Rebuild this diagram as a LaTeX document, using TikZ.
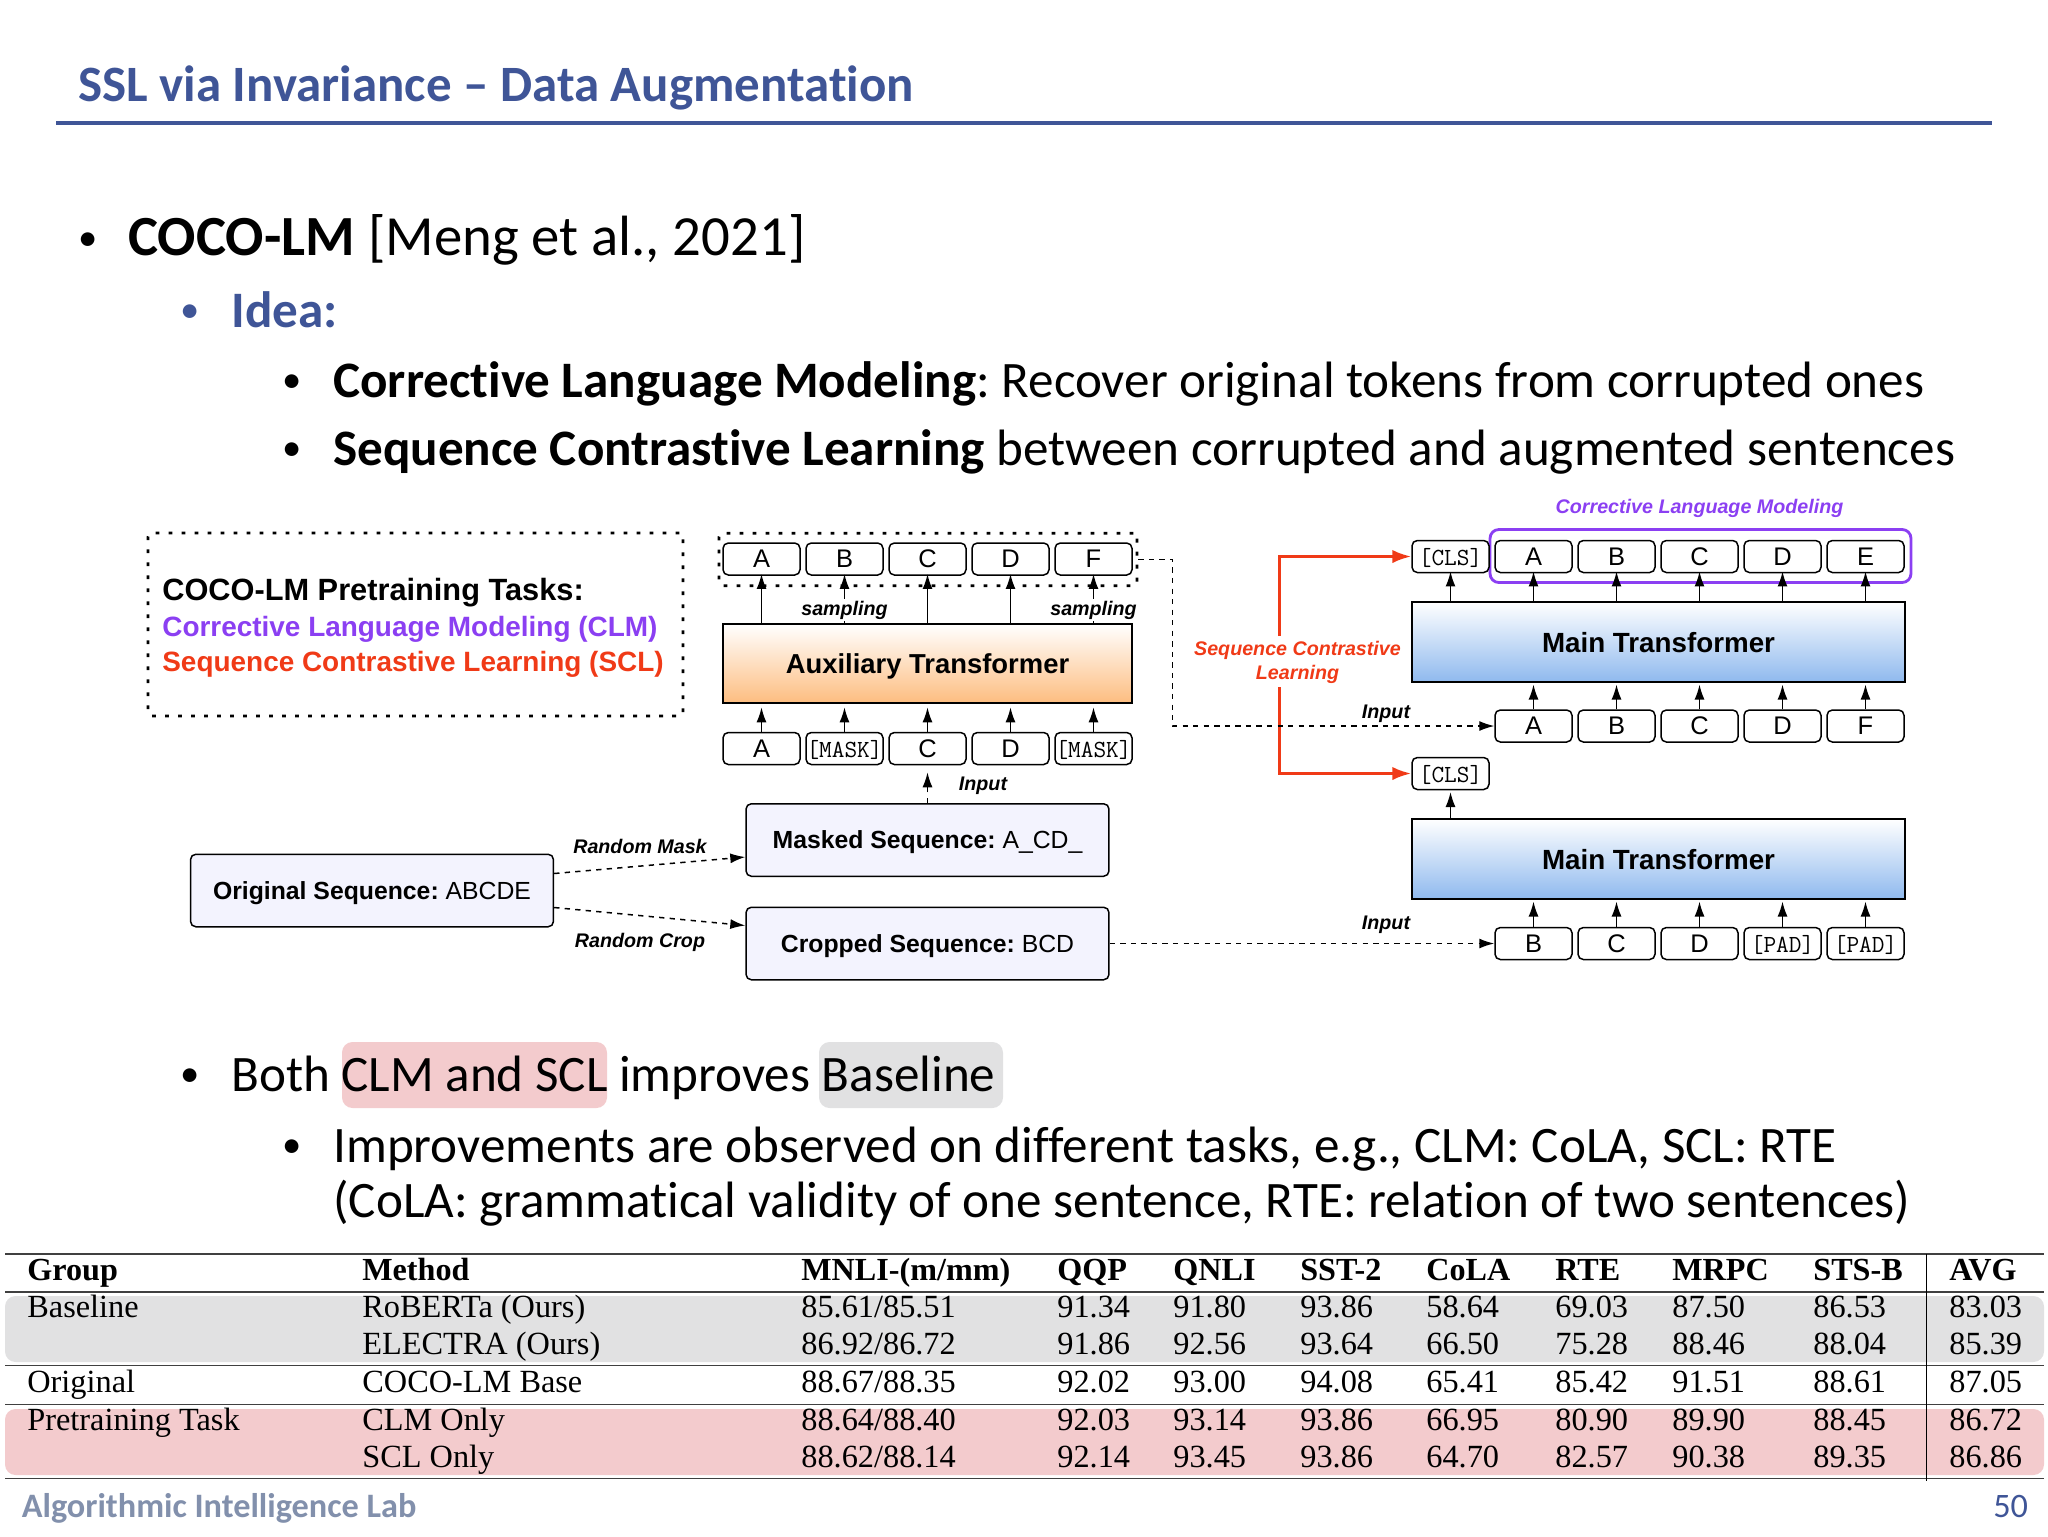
\documentclass[tikz,border=0pt]{standalone}
\usepackage{fontspec}
\usetikzlibrary{arrows.meta}
\setmainfont[Ligatures={TeX,NoCommon}]{Carlito}
\newfontfamily\diagfont{Liberation Sans}
\newfontfamily\tablefont{Liberation Serif}
\frenchspacing
\definecolor{slideblue}{HTML}{3F5597}
\definecolor{footgray}{HTML}{8290AC}
\definecolor{clmpurple}{HTML}{8B3FF2}
\definecolor{sclred}{HTML}{F03A17}
\definecolor{auxorange}{HTML}{FDBD80}
\definecolor{mainblue}{HTML}{8FB9EE}
\definecolor{seqfill}{HTML}{F3F3FE}
\definecolor{pinkband}{HTML}{F3CBCD}
\definecolor{grayband}{HTML}{E1E1E2}
\tikzset{
  slidetext/.style={anchor=base west, inner sep=0pt, font=\fontsize{29.1}{34}\selectfont},
  bulletdot/.style={anchor=base west, inner sep=0pt, font=\fontsize{22}{26}\selectfont},
  titletext/.style={anchor=base west, inner sep=0pt, text=slideblue, font=\fontsize{29}{34}\selectfont\bfseries},
  foottext/.style={anchor=base west, inner sep=0pt, font=\fontsize{19.5}{24}\selectfont\bfseries},
  tokenbox/.style={draw, rounded corners=3pt, line width=0.85pt, minimum width=1.54cm, minimum height=0.64cm, inner sep=0pt, fill=white, text depth=0pt, font=\fontsize{14.5}{16}\selectfont\diagfont},
  monotoken/.style={tokenbox, font=\fontsize{14}{15}\selectfont\ttfamily},
  seqbox/.style={draw, rounded corners=3pt, line width=0.85pt, fill=seqfill, minimum width=7.26cm, minimum height=1.45cm, inner sep=0pt, text depth=0pt, font=\fontsize{14.1}{18}\selectfont\diagfont},
  auxbox/.style={draw, line width=0.9pt, top color=white, bottom color=auxorange, minimum width=8.18cm, minimum height=1.58cm, inner sep=0pt, text depth=0pt, font=\fontsize{15.6}{18}\selectfont\diagfont\bfseries},
  mainbox/.style={draw, line width=0.9pt, top color=white, bottom color=mainblue, minimum width=9.86cm, minimum height=1.6cm, inner sep=0pt, text depth=0pt, font=\fontsize{15.8}{18}\selectfont\diagfont\bfseries},
  dottedbox/.style={draw, line width=1.5pt, dash pattern=on 2.2pt off 5.2pt, rounded corners=2pt, inner sep=0pt},
  smalllabel/.style={inner sep=1pt, fill=white, font=\fontsize{11.2}{13}\selectfont\diagfont\bfseries\itshape},
  legendtext/.style={anchor=base west, inner sep=0pt, font=\fontsize{15.9}{18}\selectfont\diagfont\bfseries},
  solidarrow/.style={-{Latex[length=0.3cm,width=0.2cm]}, line width=0.85pt},
  dasharrow/.style={solidarrow, dashed},
  redarrow/.style={-{Latex[length=0.38cm,width=0.27cm]}, line width=1.7pt, draw=sclred},
  tablecell/.style={anchor=base west, inner sep=0pt, font=\fontsize{18.4}{21}\selectfont\tablefont},
  tablehead/.style={tablecell, font=\fontsize{18.3}{21}\selectfont\tablefont\bfseries},
  tablerule/.style={line width=0.9pt, draw=black!75},
}
\begin{document}
\begin{tikzpicture}[x=0.02cm, y=-0.02cm]

    \useasboundingbox (0,0) rectangle (2048,1536);

    % slide header and bullets
    \node [titletext] (title) at (78,101) {SSL via Invariance -- Data Augmentation};
    \draw [line width=2.4pt, draw=slideblue] (56,123) -- (1992,123);

    \node [bulletdot] (dot1) at (78,250) {•};
    \node [slidetext, font=\fontsize{32.3}{38}\selectfont] (cocoline) at (128,255) {\textbf{COCO-LM} [Meng et al., 2021]};
    \node [bulletdot, text=slideblue] (dot2) at (180,322) {•};
    \node [slidetext, text=slideblue] (idealine) at (231,327) {\textbf{Idea:}};
    \node [bulletdot] (dot3) at (282,392) {•};
    \node [slidetext] (clmline) at (333,397) {\textbf{Corrective Language Modeling}: Recover original tokens from corrupted ones};
    \node [bulletdot] (dot4) at (282,460) {•};
    \node [slidetext] (sclline) at (333,465) {\textbf{Sequence Contrastive Learning} between corrupted and augmented sentences};

    % legend
    \node [dottedbox, minimum width=10.7cm, minimum height=3.66cm] (legend) at (415.5,624.5) {};
    \node [legendtext, font=\fontsize{17.5}{20}\selectfont\diagfont\bfseries] (legend1) at (162,600.5) {COCO-LM Pretraining Tasks:};
    \node [legendtext, text=clmpurple] (legend2) at (162,636) {Corrective Language Modeling (CLM)};
    \node [legendtext, text=sclred] (legend3) at (162,671) {Sequence Contrastive Learning (SCL)};

    % auxiliary side
    \node [auxbox] (aux) at (927.5,663.5) {Auxiliary Transformer};
    \node [dottedbox, minimum width=8.36cm, minimum height=1.05cm] (sampled) at (928,559.5) {};
    \node [tokenbox] (sampA) at (761.5,559) {A};
    \node [tokenbox] (sampB) at (844.5,559) {B};
    \node [tokenbox] (sampC) at (927.5,559) {C};
    \node [tokenbox] (sampD) at (1010.5,559) {D};
    \node [tokenbox] (sampF) at (1093.5,559) {F};
    \node [tokenbox] (maskA) at (761.5,748.5) {A};
    \node [monotoken] (maskB) at (844.5,748.5) {[MASK]};
    \node [tokenbox] (maskC) at (927.5,748.5) {C};
    \node [tokenbox] (maskD) at (1010.5,748.5) {D};
    \node [monotoken] (maskE) at (1093.5,748.5) {[MASK]};

    \draw [solidarrow, shorten >=2pt] (maskA.north) -- (maskA.north |- aux.south);
    \draw [solidarrow, shorten >=2pt] (maskB.north) -- (maskB.north |- aux.south);
    \draw [solidarrow, shorten >=2pt] (maskC.north) -- (maskC.north |- aux.south);
    \draw [solidarrow, shorten >=2pt] (maskD.north) -- (maskD.north |- aux.south);
    \draw [solidarrow, shorten >=2pt] (maskE.north) -- (maskE.north |- aux.south);
    \draw [solidarrow, shorten >=-1pt] (sampA.south |- aux.north) -- (sampA.south);
    \draw [solidarrow, shorten >=-1pt] (sampB.south |- aux.north) -- (sampB.south);
    \draw [solidarrow, shorten >=-1pt] (sampC.south |- aux.north) -- (sampC.south);
    \draw [solidarrow, shorten >=-1pt] (sampD.south |- aux.north) -- (sampD.south);
    \draw [solidarrow, shorten >=-1pt] (sampF.south |- aux.north) -- (sampF.south);
    \node [smalllabel] (samplabel1) at (844.5,610) {sampling};
    \node [smalllabel] (samplabel2) at (1093.5,610) {sampling};

    % sequences
    \node [seqbox] (orig) at (372,890.5) {\textbf{Original Sequence:} ABCDE};
    \node [seqbox] (masked) at (927.5,840) {\textbf{Masked Sequence:} A\_CD\_};
    \node [seqbox] (cropped) at (927.5,943.5) {\textbf{Cropped Sequence:} BCD};
    \draw [dasharrow, shorten >=4pt] (masked.north) -- (maskC.south);
    \draw [dasharrow] ([yshift=0.34cm]orig.east) -- ([yshift=-0.34cm]masked.west);
    \draw [dasharrow] ([yshift=-0.34cm]orig.east) -- ([yshift=0.36cm]cropped.west);
    \node [smalllabel] (inputlabel1) at (983,786) {Input};
    \node [smalllabel] (masklabel) at (640,846) {Random Mask};
    \node [smalllabel] (croplabel) at (640,942) {Random Crop};

    % main side, top
    \node [draw=clmpurple, line width=1.6pt, rounded corners=5pt, minimum width=8.42cm, minimum height=1.06cm, inner sep=0pt] (clmgroup) at (1700.5,556) {};
    \node [text=clmpurple, font=\fontsize{11.2}{13}\selectfont\diagfont\bfseries\itshape] (clmlabel) at (1699.5,508) {Corrective Language Modeling};
    \node [monotoken] (cls1) at (1450.5,556.5) {[CLS]};
    \node [tokenbox] (outA) at (1533.5,556.5) {A};
    \node [tokenbox] (outB) at (1616.5,556.5) {B};
    \node [tokenbox] (outC) at (1699.5,556.5) {C};
    \node [tokenbox] (outD) at (1782.5,556.5) {D};
    \node [tokenbox] (outE) at (1865.5,556.5) {E};
    \node [mainbox] (main1) at (1658.5,642) {Main Transformer};
    \node [tokenbox] (inA) at (1533.5,726) {A};
    \node [tokenbox] (inB) at (1616.5,726) {B};
    \node [tokenbox] (inC) at (1699.5,726) {C};
    \node [tokenbox] (inD) at (1782.5,726) {D};
    \node [tokenbox] (inF) at (1865.5,726) {F};

    \draw [solidarrow, shorten >=-1pt] (cls1.south |- main1.north) -- (cls1.south);
    \draw [solidarrow, shorten >=-1pt] (outA.south |- main1.north) -- (outA.south);
    \draw [solidarrow, shorten >=-1pt] (outB.south |- main1.north) -- (outB.south);
    \draw [solidarrow, shorten >=-1pt] (outC.south |- main1.north) -- (outC.south);
    \draw [solidarrow, shorten >=-1pt] (outD.south |- main1.north) -- (outD.south);
    \draw [solidarrow, shorten >=-1pt] (outE.south |- main1.north) -- (outE.south);
    \draw [solidarrow, shorten >=1pt] (inA.north) -- (inA.north |- main1.south);
    \draw [solidarrow, shorten >=1pt] (inB.north) -- (inB.north |- main1.south);
    \draw [solidarrow, shorten >=1pt] (inC.north) -- (inC.north |- main1.south);
    \draw [solidarrow, shorten >=1pt] (inD.north) -- (inD.north |- main1.south);
    \draw [solidarrow, shorten >=1pt] (inF.north) -- (inF.north |- main1.south);

    % main side, bottom
    \node [monotoken] (cls2) at (1450.5,773.5) {[CLS]};
    \node [mainbox] (main2) at (1658.5,859) {Main Transformer};
    \node [tokenbox] (padA) at (1533.5,943.5) {B};
    \node [tokenbox] (padB) at (1616.5,943.5) {C};
    \node [tokenbox] (padC) at (1699.5,943.5) {D};
    \node [monotoken] (padD) at (1782.5,943.5) {[PAD]};
    \node [monotoken] (padE) at (1865.5,943.5) {[PAD]};

    \draw [solidarrow, shorten >=1pt] (cls2.south |- main2.north) -- (cls2.south);
    \draw [solidarrow, shorten >=1pt] (padA.north) -- (padA.north |- main2.south);
    \draw [solidarrow, shorten >=1pt] (padB.north) -- (padB.north |- main2.south);
    \draw [solidarrow, shorten >=1pt] (padC.north) -- (padC.north |- main2.south);
    \draw [solidarrow, shorten >=1pt] (padD.north) -- (padD.north |- main2.south);
    \draw [solidarrow, shorten >=1pt] (padE.north) -- (padE.north |- main2.south);

    % between the two sides
    \coordinate (sclup) at (1279.6,636);
    \coordinate (scldown) at (1279.6,687);
    \coordinate (turn) at (1172.5,726);
    \draw [redarrow] (sclup) |- (cls1.west);
    \draw [redarrow] (scldown) |- (cls2.west);
    \draw [dasharrow, line width=0.7pt] (sampled.east) -| (turn) -- (inA.west);
    \draw [dasharrow] (cropped.east) -- (padA.west);
    \node [smalllabel, fill=none] (inputlabel2) at (1386,714) {Input};
    \node [smalllabel, fill=none] (inputlabel3) at (1386,924.5) {Input};
    \node [align=center, text=sclred, font=\fontsize{11.2}{14}\selectfont\diagfont\bfseries\itshape] (scllabel) at (1297.5,662.5) {Sequence Contrastive\\Learning};

    % lower bullets
    \fill [pinkband, rounded corners=6pt] (342,1042) rectangle (607,1108);
    \fill [grayband, rounded corners=6pt] (819,1042) rectangle (1003,1108);
    \node [bulletdot] (dot5) at (180,1086) {•};
    \node [slidetext] (bothline) at (231,1091) {Both CLM and SCL improves Baseline};
    \node [bulletdot] (dot6) at (282,1157) {•};
    \node [slidetext] (taskline) at (333,1162) {Improvements are observed on different tasks, e.g., CLM: CoLA, SCL: RTE};
    \node [slidetext] (coladesc) at (333,1217) {(CoLA: grammatical validity of one sentence, RTE: relation of two sentences)};

    % table
    \fill [grayband, rounded corners=6pt] (5,1296) rectangle (2044,1362);
    \fill [pinkband, rounded corners=6pt] (5,1409) rectangle (2044,1475);
    \draw [tablerule] (5,1254) -- (2044,1254);
    \draw [tablerule] (5,1292) -- (2044,1292);
    \draw [tablerule] (5,1365.5) -- (2044,1365.5);
    \draw [tablerule] (5,1404.5) -- (2044,1404.5);
    \draw [tablerule] (5,1478.5) -- (2044,1478.5);
    \draw [line width=0.5pt] (1926.6,1254) -- (1926.6,1481);

    \node [tablehead] (headA) at (27,1280) {Group};
    \node [tablehead] (headB) at (362,1280) {Method};
    \node [tablehead] (headC) at (801,1280) {MNLI-(m/mm)};
    \node [tablehead] (headD) at (1057,1280) {QQP};
    \node [tablehead] (headE) at (1173,1280) {QNLI};
    \node [tablehead] (headF) at (1300,1280) {SST-2};
    \node [tablehead] (headG) at (1426,1280) {CoLA};
    \node [tablehead] (headH) at (1555,1280) {RTE};
    \node [tablehead] (headI) at (1672,1280) {MRPC};
    \node [tablehead] (headJ) at (1813,1280) {STS-B};
    \node [tablehead] (headK) at (1949,1280) {AVG};

    \node [tablecell] (robA) at (27,1317) {Baseline};
    \node [tablecell] (robB) at (362,1317) {RoBERTa (Ours)};
    \node [tablecell] (robC) at (801,1317) {85.61/85.51};
    \node [tablecell] (robD) at (1057,1317) {91.34};
    \node [tablecell] (robE) at (1173,1317) {91.80};
    \node [tablecell] (robF) at (1300,1317) {93.86};
    \node [tablecell] (robG) at (1426,1317) {58.64};
    \node [tablecell] (robH) at (1555,1317) {69.03};
    \node [tablecell] (robI) at (1672,1317) {87.50};
    \node [tablecell] (robJ) at (1813,1317) {86.53};
    \node [tablecell] (robK) at (1949,1317) {83.03};

    \node [tablecell] (eleB) at (362,1354) {ELECTRA (Ours)};
    \node [tablecell] (eleC) at (801,1354) {86.92/86.72};
    \node [tablecell] (eleD) at (1057,1354) {91.86};
    \node [tablecell] (eleE) at (1173,1354) {92.56};
    \node [tablecell] (eleF) at (1300,1354) {93.64};
    \node [tablecell] (eleG) at (1426,1354) {66.50};
    \node [tablecell] (eleH) at (1555,1354) {75.28};
    \node [tablecell] (eleI) at (1672,1354) {88.46};
    \node [tablecell] (eleJ) at (1813,1354) {88.04};
    \node [tablecell] (eleK) at (1949,1354) {85.39};

    \node [tablecell] (basA) at (27,1392) {Original};
    \node [tablecell] (basB) at (362,1392) {COCO-LM Base};
    \node [tablecell] (basC) at (801,1392) {88.67/88.35};
    \node [tablecell] (basD) at (1057,1392) {92.02};
    \node [tablecell] (basE) at (1173,1392) {93.00};
    \node [tablecell] (basF) at (1300,1392) {94.08};
    \node [tablecell] (basG) at (1426,1392) {65.41};
    \node [tablecell] (basH) at (1555,1392) {85.42};
    \node [tablecell] (basI) at (1672,1392) {91.51};
    \node [tablecell] (basJ) at (1813,1392) {88.61};
    \node [tablecell] (basK) at (1949,1392) {87.05};

    \node [tablecell] (clmA) at (27,1430) {Pretraining Task};
    \node [tablecell] (clmB) at (362,1430) {CLM Only};
    \node [tablecell] (clmC) at (801,1430) {88.64/88.40};
    \node [tablecell] (clmD) at (1057,1430) {92.03};
    \node [tablecell] (clmE) at (1173,1430) {93.14};
    \node [tablecell] (clmF) at (1300,1430) {93.86};
    \node [tablecell] (clmG) at (1426,1430) {66.95};
    \node [tablecell] (clmH) at (1555,1430) {80.90};
    \node [tablecell] (clmI) at (1672,1430) {89.90};
    \node [tablecell] (clmJ) at (1813,1430) {88.45};
    \node [tablecell] (clmK) at (1949,1430) {86.72};

    \node [tablecell] (sclB) at (362,1467) {SCL Only};
    \node [tablecell] (sclC) at (801,1467) {88.62/88.14};
    \node [tablecell] (sclD) at (1057,1467) {92.14};
    \node [tablecell] (sclE) at (1173,1467) {93.45};
    \node [tablecell] (sclF) at (1300,1467) {93.86};
    \node [tablecell] (sclG) at (1426,1467) {64.70};
    \node [tablecell] (sclH) at (1555,1467) {82.57};
    \node [tablecell] (sclI) at (1672,1467) {90.38};
    \node [tablecell] (sclJ) at (1813,1467) {89.35};
    \node [tablecell] (sclK) at (1949,1467) {86.86};

    % footer
    \node [foottext, text=footgray] (footer) at (21.5,1517) {Algorithmic Intelligence Lab};
    \node [foottext, text=slideblue, font=\fontsize{19.5}{24}\selectfont] (pagenum) at (1993,1517) {50};
\end{tikzpicture}
\end{document}
